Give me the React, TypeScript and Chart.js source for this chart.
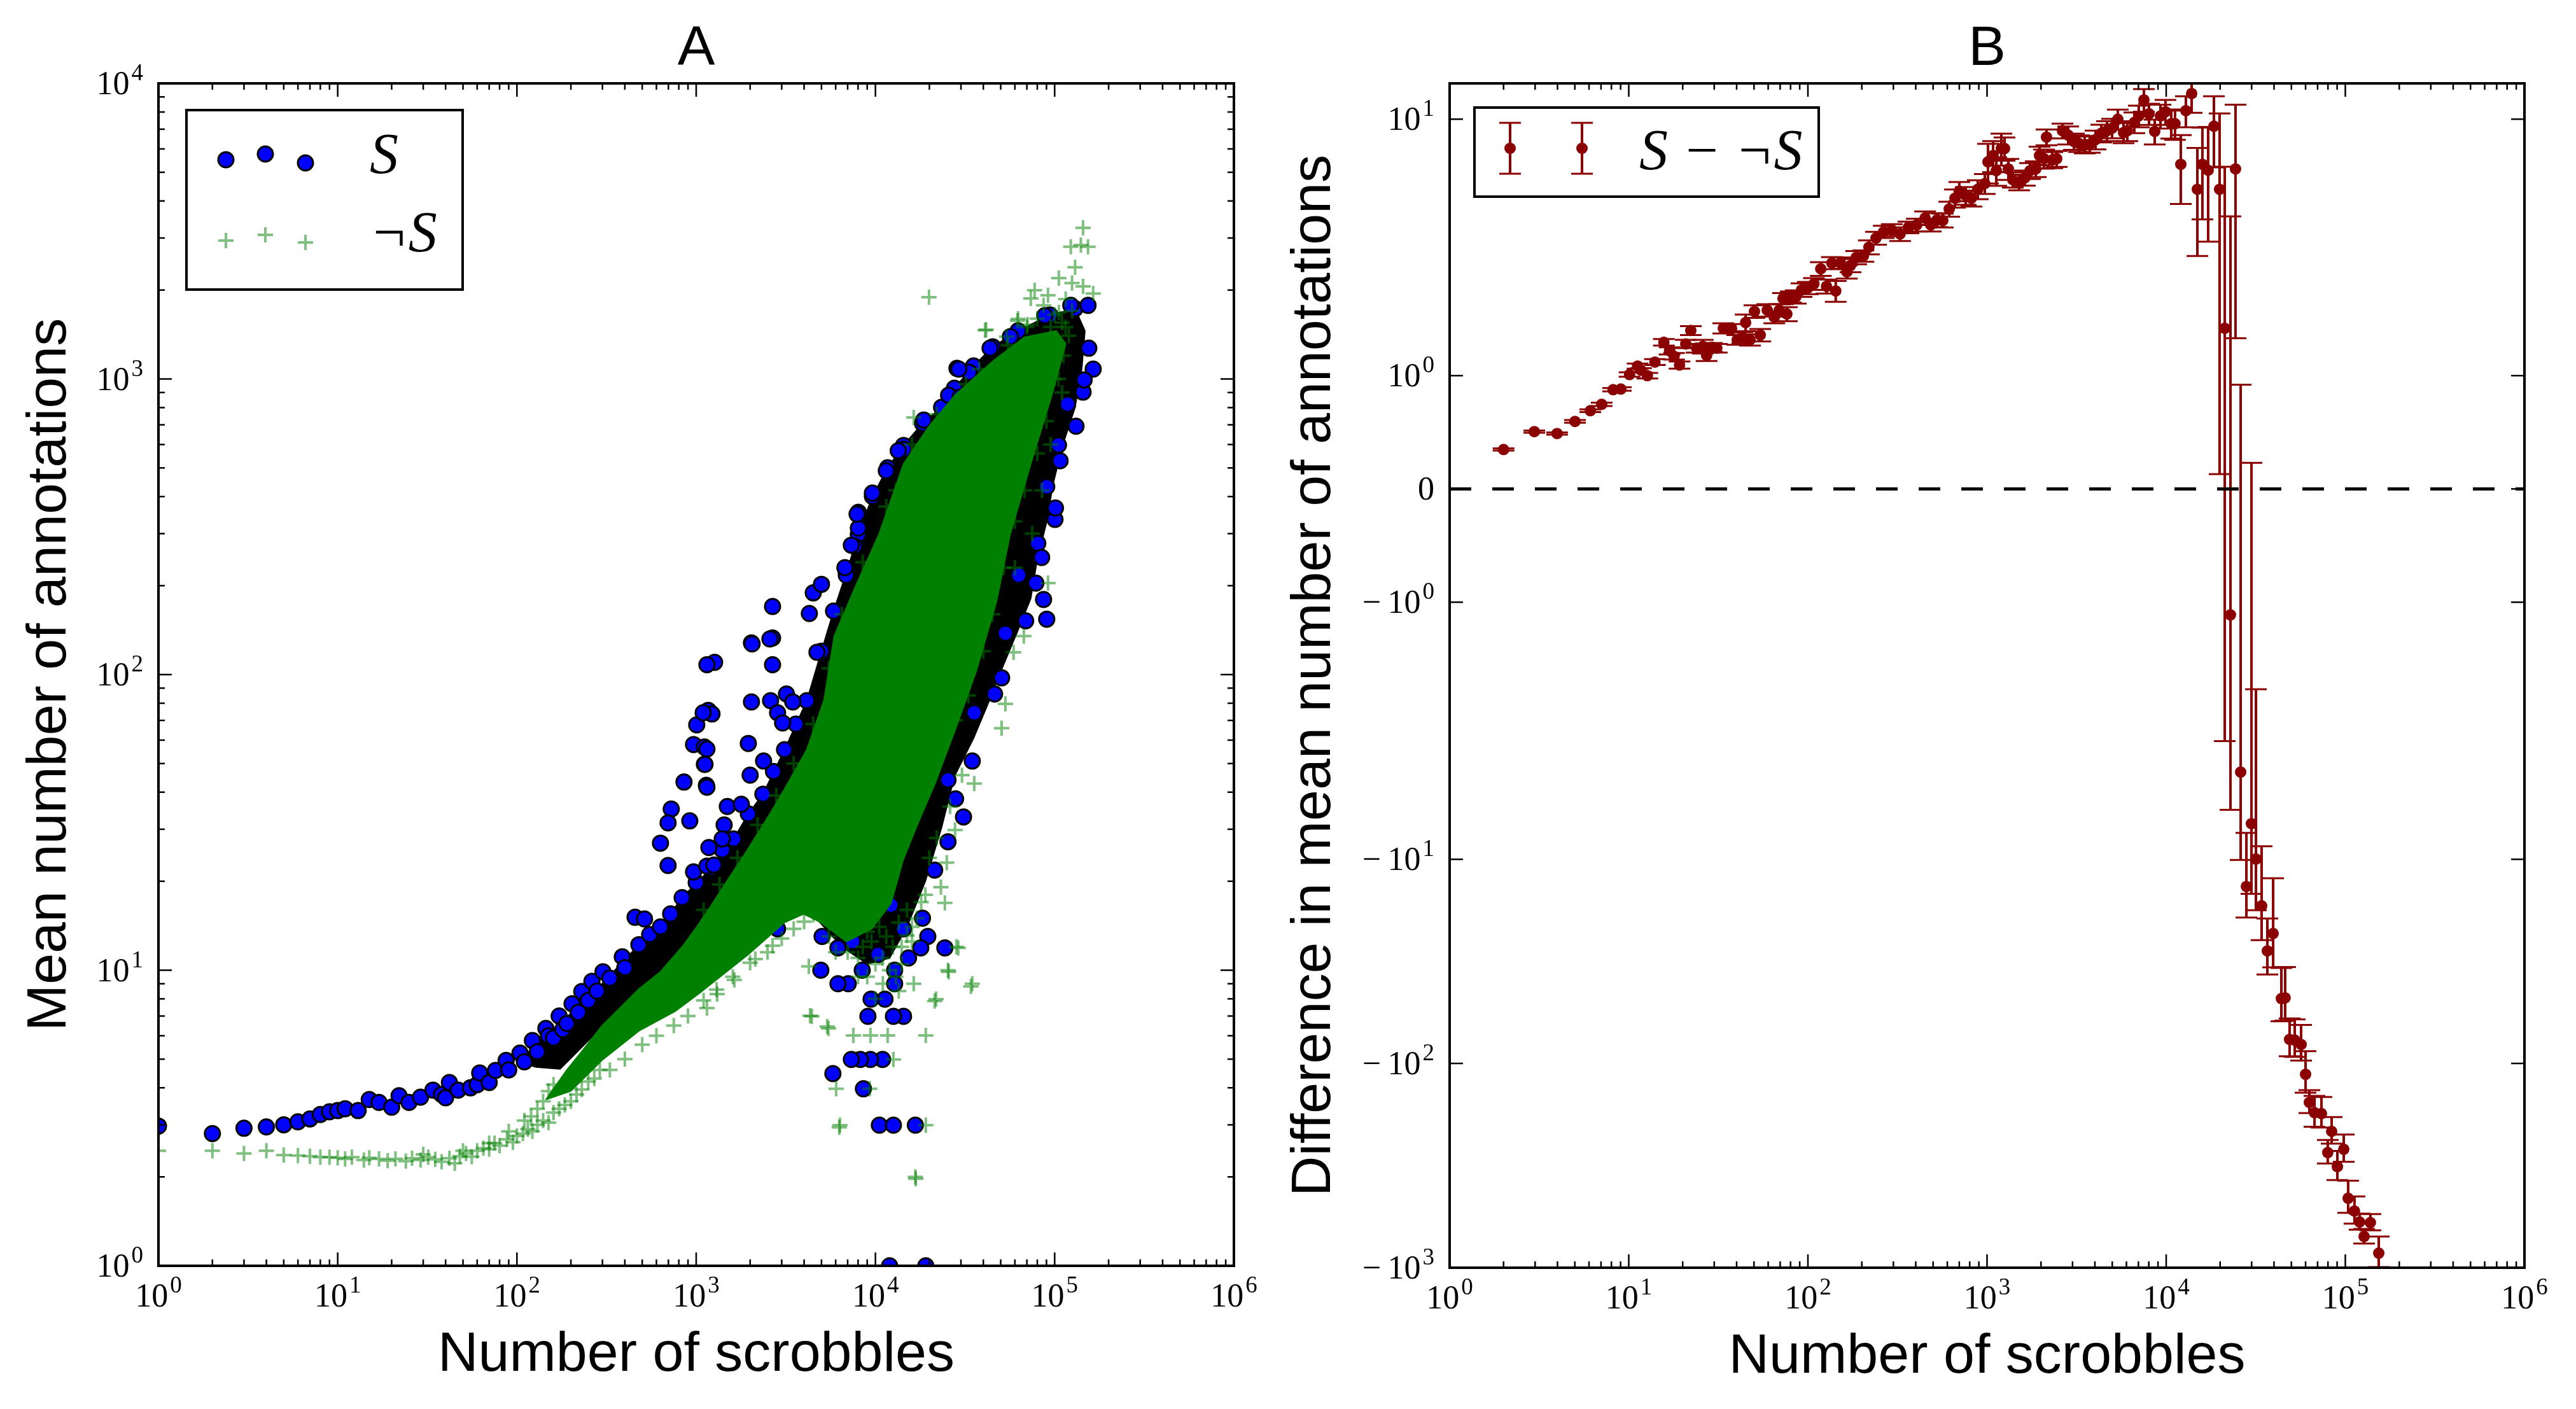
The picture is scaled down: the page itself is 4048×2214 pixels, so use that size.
import { useEffect, useRef } from 'react';
import { Chart, LinearScale, registerables } from 'chart.js';
import type { ChartArea, ChartConfiguration, Plugin } from 'chart.js';

Chart.register(...registerables);

// ---------------- panel A: mean number of annotations ----------------

// S: single markers that stand out of the dense band
const sScrobbles = [
  1, 2, 3, 4, 5, 6, 7, 8, 9, 10, 11, 13, 15, 17, 20, 22, 25, 29, 34, 38, 40, 42, 47, 55, 60, 62, 70, 76, 87, 90,
  104, 110, 122, 130, 145, 150, 160, 172, 180, 190, 203, 220, 230, 250, 262, 280, 302, 330,
  387, 400, 456, 479, 515, 550, 632, 720, 835, 1000, 1216, 1400, 1618, 1954, 2356, 2700, 3112, 3600, 4140, 5000,
  5840, 6880, 8030, 9620, 11700, 14350, 18300, 23400, 27600, 35300, 45100, 62500, 94000, 130000,
  1007, 1167, 967, 1111, 1111, 855, 1140, 726, 697, 921, 632, 697, 967, 1267, 1148, 1225, 1094, 2034, 2600, 3190,
  3460, 2845, 3035, 1148, 1954, 2377, 2000, 1120, 1148, 1492, 1786, 1432, 1177, 1397, 1148, 1256, 2034, 2667, 2667, 2667,
  4280, 4500, 5000, 6880, 7650, 8030, 8030, 7900, 13700, 14350, 18600, 25600, 28500, 33300, 43600, 29200, 29700, 13400, 11500, 9620,
  7340, 6760, 4720, 123000, 153500, 88100, 56600, 2050, 2578,
  164000, 144000, 155000, 146000, 131500, 118000, 107200, 105000, 90300, 100400, 101000, 80500, 84600, 78500, 86700, 90300,
  68900, 63000, 53100, 50600, 46200, 35600, 34700, 25400, 25400, 21400, 18300, 24400, 19600, 17900, 15300, 12800, 12800,
  11300, 9460, 14350, 12600, 9080, 10960, 9380, 8240, 7340, 5790, 8570, 10520, 12600, 16700, 12000, 19100, 4960, 5040,
  6180, 7050, 6180, 8440, 7460, 10350, 14350, 12200, 2845, 28000, 31000,
];
const sMean = [
  2.97, 2.8, 2.92, 2.95, 3.0, 3.07, 3.14, 3.25, 3.32, 3.35, 3.4, 3.35, 3.65, 3.57, 3.44, 3.76, 3.57, 3.72, 3.93, 3.8, 3.7, 4.17, 3.93, 4.0, 4.1, 4.49, 4.17, 4.58, 4.95, 4.6,
  5.24, 4.9, 5.78, 5.3, 6.35, 6.0, 5.9, 7.0, 6.3, 6.6, 7.7, 7.2, 8.47, 7.9, 9.17, 8.5, 9.88, 9.4,
  11.1, 10.2, 15.1, 12.2, 14.9, 13.2, 14.0, 15.5, 17.6, 19.8, 22.2, 25.5, 27.8, 33.8, 39.4, 47, 55.7, 68, 81.6, 120,
  164, 221, 298, 401, 501, 596, 708, 802, 931, 1107, 1285, 1455, 1646, 1730,
  67.6, 75.7, 58, 56.9, 49.7, 43.3, 42.2, 35.1, 31.5, 32, 26.9, 22.6, 21.5, 110, 108, 73.6, 74.3, 80.8, 81.6, 86,
  80.8, 74.3, 68.6, 56, 58.5, 51, 45.7, 49.7, 41.6, 35.8, 36.4, 31, 26, 27.8, 22.5, 22.7, 128, 133, 108, 170,
  161, 189, 202, 217, 272, 313, 354, 349, 415, 578, 726, 881, 1086, 1054, 1271, 1080, 868, 572, 489, 411,
  274, 230, 119, 1774, 1774, 1638, 1391, 127, 132,
  1080, 903, 1271, 993, 692, 822, 529, 598, 432, 335, 366, 278, 249, 204, 179.5, 154,
  152, 217, 138, 97.5, 86, 74.3, 51, 44, 27.2, 21.8, 15, 11.9, 13, 11.9, 11.0, 10.0, 9.0,
  7.98, 7.98, 6.98, 6.98, 6.98, 4.99, 4.99, 4.99, 4.99, 4.47, 3.97, 2.99, 2.99, 2.99, 1.0, 1.0, 10.0, 13.0,
  11.9, 9.0, 9.0, 10.0, 12.5, 11.3, 13.8, 16.6, 13.8, 38, 33,
];

// S: outline of the band where the markers overlap into solid black
const sCoreScrobbles = [
  100, 128, 187, 298, 479, 632, 835, 1216, 1618, 1954, 2356, 3112, 4140, 5000, 5840, 6880, 8030, 9620, 11700, 14350,
  18300, 23400, 27600, 35300, 45100, 62500, 94000, 130000,
  147500, 141600, 130000, 110700, 98000, 90300, 79800, 73600, 62500, 50900, 43300, 35300, 27600, 23400, 19000, 15000,
  12000, 9000, 6500, 4570,
  3300, 1580, 697, 308, 174, 128, 100,
];
const sCoreMean = [
  4.9, 5.56, 6.88, 8.99, 12.2, 14.0, 17.6, 22.2, 27.8, 33.8, 39.4, 55.7, 81.6, 120, 164, 221, 298, 401, 501, 596,
  708, 802, 931, 1107, 1285, 1455, 1646, 1730,
  1455, 1080, 802, 596, 442, 329, 244, 181, 141.5, 105, 82, 61, 45.3, 30.4, 20, 14,
  11, 10.5, 12, 15.2,
  23.8, 14.5, 9.27, 6.55, 4.63, 4.7, 4.9,
];

// ¬S: single markers
const nsScrobbles = [
  1, 2, 3, 4, 5, 6, 7, 8, 9, 10, 11, 12, 14, 15, 17, 19, 21, 24, 26, 29,
  30, 32, 35, 38, 42, 45, 48, 50, 52, 56, 60, 65, 70, 70, 75, 80, 88, 90, 95, 100,
  108, 110, 115, 120, 122, 130, 130, 140, 140, 150, 150, 160, 160, 172, 185,
  200, 215, 230, 250, 270, 290, 330, 400, 500, 600, 750, 900, 1100, 1300, 1600, 2000, 2500, 3000, 3500, 4000, 4500, 5000,
  4320, 5470, 6280, 16800, 34100, 25600, 28300, 21400, 19100, 11700, 9380, 7530, 5380, 4420, 4250, 12600, 6040, 9300, 6340, 19100,
  16700, 15000, 2667, 2138, 1633, 1309, 1148, 29000, 25400, 34700, 21800, 16360, 35600, 30400, 26100, 27800, 25000, 23200, 24400,
  7000, 9000, 11000, 13500, 10000, 8000, 16000, 18000, 20000, 22000, 14000,
  5500, 6500, 7500, 8500, 9500, 10500, 11500, 12500, 13500, 15000, 17000, 19000, 6000, 8000, 10000, 12000, 14000, 16000, 11000, 9000, 13000,
  91800, 67300, 59000, 53100, 50600, 75000, 85000, 95000, 60000, 110000, 100000,
  144000, 123000, 140000, 153500, 19900, 105500, 125000, 144000, 77300, 91800, 73600, 164000, 62000, 70600, 41500, 54000,
  105500, 86700, 130000, 115300, 16360, 62500, 40900, 120000, 110000, 95000,
  1100, 1350, 1700, 2200, 2800, 3500, 4500, 5500, 6500, 8500, 11500, 13000, 16000, 22000, 32000, 38000, 55000,
  112000, 105000, 90000, 80000, 68000, 60000, 52000, 45000, 40000, 33000, 28000,
  80000, 100000, 70000, 115000, 125000,
];
const nsMean = [
  2.45, 2.45, 2.4, 2.45, 2.37, 2.36, 2.35, 2.33, 2.33, 2.32, 2.3, 2.33, 2.28, 2.32, 2.3, 2.27, 2.3, 2.26, 2.31, 2.28,
  2.38, 2.33, 2.29, 2.25, 2.31, 2.22, 2.35, 2.45, 2.4, 2.34, 2.45, 2.5, 2.48, 2.6, 2.6, 2.55, 2.68, 2.85, 2.62, 2.75,
  2.8, 3.1, 2.9, 3.2, 2.85, 3.0, 3.4, 3.1, 3.6, 3.05, 3.9, 3.3, 4.1, 3.4, 3.5,
  3.6, 3.8, 3.95, 4.2, 4.3, 4.6, 4.6, 5.0, 5.6, 6.0, 6.5, 7.0, 7.9, 8.6, 9.5, 10.6, 11.5, 12.8, 13.8, 14.6, 15.4, 15.9,
  7.02, 6.35, 2.94, 1.97, 8.81, 9.88, 12.0, 7.86, 6.02, 6.02, 6.02, 6.02, 6.45, 6.98, 10.3, 4.99, 3.97, 3.97, 2.99, 2.99,
  2.0, 13.1, 12.1, 10.9, 9.27, 8.3, 7.45, 11.9, 10.0, 9.0, 7.98, 9.0, 42.8, 45.7, 35.8, 29.8, 23.1, 19.1, 16.9,
  11.5, 13.5, 11, 8.5, 8.0, 9.5, 12.5, 17, 24, 28, 10.5,
  13, 14, 13.5, 12, 12.5, 14, 13, 12, 14.5, 16, 15, 18, 11.5, 11, 10.5, 10, 12, 14, 9, 9.5, 9.5,
  204, 135, 119, 79.6, 65.9, 300, 420, 600, 230, 900, 1000,
  3245, 2800, 2840, 2800, 1890, 2195, 2110, 2057, 1996, 1919, 1873, 1945, 1574, 1528, 1468, 1391,
  1679, 1774, 2387, 1862, 741, 1597, 1462, 1400, 1550, 1500,
  16, 19.5, 24, 31, 39, 50, 68, 105, 160, 240, 370, 420, 600, 760, 960, 1080, 1300,
  1200, 1000, 720, 560, 420, 330, 230, 160, 120, 85, 70,
  1600, 1650, 1500, 1500, 1700,
];

// ¬S: outline of the solid green cloud
const nsCoreScrobbles = [
  145, 190, 226, 298, 397, 479, 632, 835, 1007, 1216, 1466, 1954, 2578, 3112, 4140, 5165, 5890, 7780, 10500, 14350,
  19900, 27800, 45400, 67800, 102000, 115300, 96400, 73600, 56600, 47300, 36500, 27600, 21600, 16900, 14350, 12200,
  9530, 6880, 4960, 3980, 3112, 1954, 1050, 763, 479, 298, 200, 145,
];
const nsCoreMean = [
  3.65, 4.6, 5.24, 6.48, 7.71, 8.64, 9.88, 12.0, 14.0, 16.6, 19.8, 25.8, 33.8, 41, 55.7, 82, 135, 200, 300, 516,
  692, 881, 1151, 1384, 1455, 1316, 881, 516, 300, 176, 102.5, 64, 43.1, 30.4, 23.8, 16.8,
  13.8, 12.5, 14.5, 15.5, 14.5, 11.3, 8.39, 7.26, 6.23, 4.96, 3.9, 3.65,
];

// ---------------- panel B: difference S − ¬S ----------------

const diffScrobbles = [
  2, 2.97, 3.98, 5.01, 6.1, 7.06, 8.18, 9.03, 10.1, 11.2,
  11.7, 12.7, 14.0, 15.7, 16.9, 17.9, 19.2, 20.8, 22.2, 23.9,
  25.9, 27.2, 29.1, 31.0, 33.7, 37.5, 40.3, 43.1, 44.9, 47.5,
  50.3, 54.2, 59.3, 64.9, 69.2, 72.6, 76.3, 80.2, 85.6, 92.1,
  100, 108, 118, 127, 136, 143, 152, 165, 173, 186,
  204, 219, 240, 265, 294, 327, 364, 405, 451, 485,
  526, 566, 615, 662, 700, 760, 818, 888, 972, 1012,
  1081, 1126, 1202, 1252, 1315, 1393, 1511, 1626, 1738, 1871,
  1963, 2080, 2148, 2312, 2449, 2636, 2837, 3055, 3260, 3510,
  3750, 4035, 4345, 4675, 4990, 5370, 5780, 6070, 6640, 7030,
  7510, 8020, 8630, 9290, 9910, 10670, 11200, 12070, 12880, 13870,
  14930, 15930, 17150, 18470, 19870, 21230, 22850, 24380, 26050, 28040,
  29920, 31700, 34100, 36720, 39540, 43950, 46130, 48870, 52200, 56650,
  60000, 63000, 67300, 73600, 79800, 83900, 90300, 98000, 103700, 112500,
  120200, 127300, 138000, 153700,
];
const diffValue = [
  0.348, 0.506, 0.489, 0.596, 0.691, 0.747, 0.876, 0.882, 1.01, 1.09,
  1.05, 1.0, 1.13, 1.35, 1.25, 1.19, 1.1, 1.33, 1.5, 1.28,
  1.3, 1.2, 1.29, 1.28, 1.53, 1.53, 1.38, 1.41, 1.61, 1.38,
  1.78, 1.44, 1.8, 1.69, 1.8, 2.0, 1.74, 2.03, 2.03, 2.16,
  2.2, 2.28, 2.61, 2.23, 2.75, 2.14, 2.75, 2.54, 2.69, 2.89,
  2.93, 3.17, 3.44, 3.64, 3.7, 3.57, 3.79, 3.87, 4.12, 3.87,
  4.05, 4.03, 4.47, 4.92, 5.24, 5.04, 4.92, 5.33, 5.61, 6.82,
  7.22, 6.3, 7.69, 7.69, 6.4, 5.81, 5.68, 5.91, 6.3, 6.4,
  7.22, 7.02, 8.52, 6.94, 7.02, 9.02, 8.67, 8.19, 8.05, 7.96,
  8.0, 8.33, 8.82, 9.02, 9.23, 10.0, 8.87, 9.02, 9.72, 10.3,
  11.9, 10.5, 8.97, 10.3, 10.7, 9.61, 9.61, 6.67, 10.8, 12.6,
  5.33, 6.67, 6.33, 9.39, 5.33, 1.53, -1.12, 6.4, -4.58, -13.6,
  -7.27, -9.98, -16.9, -28.1, -23.1, -48.1, -47.7, -76.2, -76.8, -80.7,
  -113, -155, -174, -176, -273, -215, -320, -263, -457, -528,
  -597, -703, -601, -848,
];
const diffErr = [
  0.01, 0.01, 0.01, 0.012, 0.012, 0.015, 0.015, 0.015, 0.02, 0.025,
  0.02, 0.025, 0.03, 0.04, 0.04, 0.035, 0.035, 0.05, 0.06, 0.05,
  0.08, 0.06, 0.05, 0.05, 0.07, 0.06, 0.06, 0.07, 0.12, 0.07,
  0.1, 0.08, 0.1, 0.09, 0.1, 0.1, 0.11, 0.1, 0.12, 0.13,
  0.12, 0.12, 0.16, 0.14, 0.15, 0.2, 0.14, 0.15, 0.16, 0.17,
  0.15, 0.2, 0.2, 0.2, 0.2, 0.22, 0.2, 0.22, 0.25, 0.22,
  0.25, 0.25, 0.3, 0.4, 0.45, 0.4, 0.35, 0.45, 0.5, 1.2,
  1.0, 0.8, 1.1, 0.8, 0.6, 0.4, 0.4, 0.4, 0.45, 0.45,
  0.6, 0.6, 0.6, 0.5, 0.5, 0.6, 0.7, 0.6, 0.6, 0.6,
  0.6, 0.7, 0.7, 0.8, 0.8, 0.9, 0.8, 0.8, 0.9, 1.0,
  1.2, 1.0, 1.0, 1.1, 1.2, 1.2, 1.3, 2.0, 1.5, 2.0,
  2.4, 2.6, 3.0, 2.9, 5.2, 5.0, 5.3, 5.0, 5.5, 5.7,
  7.5, 7.8, 8, 8.6, 10.7, 14, 14, 16, 16, 16,
  26, 20, 30, 30, 36, 32, 52, 40, 82, 80,
  54, 58, 55, 145,
];
const zeroLineScrobbles = [1, 1000000];
const zeroLineValue = [0, 0];

// ---------------- ticks ----------------

const decadeTicks = [1, 10, 100, 1000, 10000, 100000, 1000000];
const decadeLabels = ['10^0', '10^1', '10^2', '10^3', '10^4', '10^5', '10^6'];
const minorSteps = [2, 3, 4, 5, 6, 7, 8, 9];
const aYTicks = [1, 10, 100, 1000, 10000];
const aYLabels = ['10^0', '10^1', '10^2', '10^3', '10^4'];
const bYTicks = [10, 1, 0, -1, -10, -100, -1000];
const bYLabels = ['10^1', '10^0', '0', '\u2212\u200910^0', '\u2212\u200910^1', '\u2212\u200910^2', '\u2212\u200910^3'];

const SANS = '"Liberation Sans", Arial, sans-serif';
const SERIF = '"Liberation Serif", "Times New Roman", serif';
const S_FILL = '#0000ff';
const NS_COLOR = 'rgba(0, 128, 0, 0.5)';
const NS_CORE = '#008000';
const DIFF_COLOR = '#8b0000';

function zip(xs: number[], ys: number[]) {
  return xs.map((x, i) => ({ x, y: ys[i] }));
}

function minorLogTicks(lo: number, hi: number) {
  const out: number[] = [];
  for (let d = lo; d < hi; d *= 10) {
    for (const m of minorSteps) out.push(d * m);
  }
  return out;
}

// ---------------- y scale of panel B ----------------
// linear between -1 and 1, logarithmic outside; the negative decades below -10 are narrower
const LIN = 178 / 403;
const NEG1 = 404 / 403;
const NEGN = 321 / 403;

function toUnits(v: number) {
  if (v >= -1 && v <= 1) return v * LIN;
  if (v > 1) return LIN + Math.log10(v);
  const l = Math.log10(-v);
  return l <= 1 ? -(LIN + NEG1 * l) : -(LIN + NEG1 + NEGN * (l - 1));
}

function fromUnits(u: number) {
  if (Math.abs(u) <= LIN) return u / LIN;
  if (u > 0) return 10 ** (u - LIN);
  const w = -u - LIN;
  return w <= NEG1 ? -(10 ** (w / NEG1)) : -(10 ** (1 + (w - NEG1) / NEGN));
}

class SplitLogScale extends LinearScale {
  static id = 'splitlog';
  static defaults = LinearScale.defaults;
  uLo = 0;
  uHi = 1;

  configure() {
    super.configure();
    this.uLo = toUnits(this.min);
    this.uHi = toUnits(this.max);
  }

  getPixelForValue(value: number) {
    return this.getPixelForDecimal((toUnits(value) - this.uLo) / (this.uHi - this.uLo));
  }

  getValueForPixel(pixel: number) {
    return fromUnits(this.uLo + this.getDecimalForPixel(pixel) * (this.uHi - this.uLo));
  }
}
Chart.register(SplitLogScale);

// ---------------- drawing helpers ----------------

function drawMath(ctx: CanvasRenderingContext2D, text: string, x: number, baseline: number, align: 'center' | 'right') {
  const [main, sup = ''] = text.split('^');
  ctx.font = `52px ${SERIF}`;
  const wMain = ctx.measureText(main).width;
  ctx.font = `37px ${SERIF}`;
  const wSup = sup ? ctx.measureText(sup).width + 3 : 0;
  const total = wMain + wSup;
  const left = align === 'center' ? x - total / 2 : x - total;
  ctx.textAlign = 'left';
  ctx.textBaseline = 'alphabetic';
  ctx.font = `52px ${SERIF}`;
  ctx.fillText(main, left, baseline);
  if (sup) {
    ctx.font = `37px ${SERIF}`;
    ctx.fillText(sup, left + wMain + 3, baseline - 22);
  }
}

function drawCircle(ctx: CanvasRenderingContext2D, x: number, y: number) {
  ctx.beginPath();
  ctx.arc(x, y, 12, 0, Math.PI * 2);
  ctx.fillStyle = S_FILL;
  ctx.fill();
  ctx.lineWidth = 3;
  ctx.strokeStyle = '#000';
  ctx.stroke();
}

function drawPlus(ctx: CanvasRenderingContext2D, x: number, y: number) {
  ctx.beginPath();
  ctx.moveTo(x - 12, y);
  ctx.lineTo(x + 12, y);
  ctx.moveTo(x, y - 12);
  ctx.lineTo(x, y + 12);
  ctx.lineWidth = 4;
  ctx.strokeStyle = NS_COLOR;
  ctx.stroke();
}

function drawErrorMark(ctx: CanvasRenderingContext2D, x: number, top: number, bottom: number) {
  ctx.strokeStyle = DIFF_COLOR;
  ctx.lineWidth = 4;
  ctx.beginPath();
  ctx.moveTo(x, top);
  ctx.lineTo(x, bottom);
  ctx.stroke();
  ctx.lineWidth = 3;
  ctx.beginPath();
  ctx.moveTo(x - 17, top);
  ctx.lineTo(x + 17, top);
  ctx.moveTo(x - 17, bottom);
  ctx.lineTo(x + 17, bottom);
  ctx.stroke();
}

function legendBox(ctx: CanvasRenderingContext2D, left: number, top: number, w: number, h: number) {
  ctx.fillStyle = '#fff';
  ctx.fillRect(left, top, w, h);
  ctx.lineWidth = 4;
  ctx.strokeStyle = '#000';
  ctx.strokeRect(left, top, w, h);
}

function legendA(ctx: CanvasRenderingContext2D, a: ChartArea) {
  const left = a.left + 44;
  const top = a.top + 42;
  legendBox(ctx, left, top, 434, 282);
  drawCircle(ctx, left + 62, top + 78);
  drawCircle(ctx, left + 124, top + 69);
  drawCircle(ctx, left + 187, top + 83);
  drawPlus(ctx, left + 62, top + 205);
  drawPlus(ctx, left + 124, top + 196);
  drawPlus(ctx, left + 187, top + 208);
  ctx.fillStyle = '#000';
  ctx.textAlign = 'left';
  ctx.textBaseline = 'alphabetic';
  ctx.font = `italic 90px ${SERIF}`;
  ctx.fillText('S', left + 288, top + 99);
  ctx.fillText('\u00acS', left + 288, top + 222);
}

function legendB(ctx: CanvasRenderingContext2D, a: ChartArea) {
  const left = a.left + 39;
  const top = a.top + 38;
  legendBox(ctx, left, top, 541, 140);
  for (const dx of [56, 169]) {
    drawErrorMark(ctx, left + dx, top + 24, top + 104);
    ctx.beginPath();
    ctx.arc(left + dx, top + 64, 9, 0, Math.PI * 2);
    ctx.fillStyle = DIFF_COLOR;
    ctx.fill();
  }
  ctx.fillStyle = '#000';
  ctx.textAlign = 'left';
  ctx.textBaseline = 'alphabetic';
  ctx.font = `italic 90px ${SERIF}`;
  ctx.fillText('S \u2212 \u00acS', left + 259, top + 97);
}

type Decor = {
  title: string;
  xTitle: string;
  yTitle: string;
  yTitleGap: number;
  yTicks: number[];
  yLabels: string[];
  yMinor: number[];
  legend: (ctx: CanvasRenderingContext2D, a: ChartArea) => void;
};

function decorPlugin(d: Decor): Plugin<'scatter'> {
  return {
    id: 'panelDecor',
    afterDraw(chart) {
      const { ctx, chartArea: a } = chart;
      const xs = chart.scales.x;
      const ys = chart.scales.y;
      ctx.save();
      ctx.strokeStyle = '#000';
      ctx.lineWidth = 2.5;
      ctx.beginPath();
      const xTick = (v: number, len: number) => {
        const px = xs.getPixelForValue(v);
        ctx.moveTo(px, a.bottom);
        ctx.lineTo(px, a.bottom - len);
        ctx.moveTo(px, a.top);
        ctx.lineTo(px, a.top + len);
      };
      const yTick = (v: number, len: number) => {
        const py = ys.getPixelForValue(v);
        ctx.moveTo(a.left, py);
        ctx.lineTo(a.left + len, py);
        ctx.moveTo(a.right, py);
        ctx.lineTo(a.right - len, py);
      };
      decadeTicks.forEach((v) => xTick(v, 21));
      minorLogTicks(1, 1000000).forEach((v) => xTick(v, 10));
      d.yTicks.forEach((v) => yTick(v, 21));
      d.yMinor.forEach((v) => yTick(v, 10));
      ctx.stroke();

      d.legend(ctx, a);

      ctx.lineWidth = 4;
      ctx.strokeStyle = '#000';
      ctx.strokeRect(a.left, a.top, a.right - a.left, a.bottom - a.top);

      ctx.fillStyle = '#000';
      decadeTicks.forEach((v, i) => drawMath(ctx, decadeLabels[i], xs.getPixelForValue(v), a.bottom + 64, 'center'));
      d.yTicks.forEach((v, i) => drawMath(ctx, d.yLabels[i], a.left - 24, ys.getPixelForValue(v) + 17, 'right'));

      const cx = (a.left + a.right) / 2;
      const cy = (a.top + a.bottom) / 2;
      ctx.font = `88px ${SANS}`;
      ctx.textAlign = 'center';
      ctx.textBaseline = 'alphabetic';
      ctx.fillText(d.title, cx, a.top - 29);
      ctx.fillText(d.xTitle, cx, a.bottom + 165);
      ctx.translate(a.left - d.yTitleGap, cy);
      ctx.rotate(-Math.PI / 2);
      ctx.fillText(d.yTitle, 0, 0);
      ctx.restore();
    },
  };
}

const errorBarPlugin: Plugin<'scatter'> = {
  id: 'diffErrorBars',
  beforeDatasetsDraw(chart) {
    const { ctx, chartArea: a } = chart;
    const xs = chart.scales.x;
    const ys = chart.scales.y;
    ctx.save();
    ctx.beginPath();
    ctx.rect(a.left, a.top, a.right - a.left, a.bottom - a.top);
    ctx.clip();
    diffScrobbles.forEach((xv, i) => {
      const px = xs.getPixelForValue(xv);
      const top = ys.getPixelForValue(diffValue[i] + diffErr[i]);
      const bottom = ys.getPixelForValue(diffValue[i] - diffErr[i]);
      drawErrorMark(ctx, px, top, bottom);
    });
    ctx.restore();
  },
};

const baseOptions = {
  animation: false as const,
  responsive: false,
  devicePixelRatio: 1,
  events: [] as never[],
  plugins: { legend: { display: false }, tooltip: { enabled: false }, title: { display: false } },
};

function buildPanelA(): ChartConfiguration<'scatter'> {
  return {
    type: 'scatter',
    data: {
      datasets: [
        {
          label: 'S band',
          data: zip(sCoreScrobbles, sCoreMean),
          showLine: true,
          fill: 'shape',
          backgroundColor: '#000',
          borderColor: '#000',
          borderWidth: 2,
          pointRadius: 0,
          order: 6,
          clip: 0,
        },
        {
          label: 'S',
          data: zip(sScrobbles, sMean),
          pointRadius: 12,
          pointBorderWidth: 3,
          pointBackgroundColor: S_FILL,
          pointBorderColor: '#000',
          backgroundColor: S_FILL,
          borderColor: '#000',
          order: 5,
          clip: 0,
        },
        {
          label: '¬S cloud',
          data: zip(nsCoreScrobbles, nsCoreMean),
          showLine: true,
          fill: 'shape',
          backgroundColor: NS_CORE,
          borderColor: NS_CORE,
          borderWidth: 2,
          pointRadius: 0,
          order: 4,
          clip: 0,
        },
        {
          label: '¬S',
          data: zip(nsScrobbles, nsMean),
          pointStyle: 'cross',
          pointRadius: 12,
          pointBorderWidth: 4,
          pointBorderColor: NS_COLOR,
          pointBackgroundColor: NS_COLOR,
          borderColor: NS_COLOR,
          order: 3,
          clip: 0,
        },
      ],
    },
    options: {
      ...baseOptions,
      layout: { padding: { left: 249, right: 85, top: 131, bottom: 225 } },
      scales: {
        x: { type: 'logarithmic', min: 1, max: 1000000, display: false, bounds: 'data' },
        y: { type: 'logarithmic', min: 1, max: 10000, display: false, bounds: 'data' },
      },
    },
    plugins: [
      decorPlugin({
        title: 'A',
        xTitle: 'Number of scrobbles',
        yTitle: 'Mean number of annotations',
        yTitleGap: 146,
        yTicks: aYTicks,
        yLabels: aYLabels,
        yMinor: minorLogTicks(1, 10000),
        legend: legendA,
      }),
    ],
  };
}

function buildPanelB(): ChartConfiguration<'scatter'> {
  return {
    type: 'scatter',
    data: {
      datasets: [
        {
          label: 'S − ¬S',
          data: zip(diffScrobbles, diffValue),
          pointRadius: 9,
          pointBorderWidth: 0,
          pointBackgroundColor: DIFF_COLOR,
          backgroundColor: DIFF_COLOR,
          borderColor: DIFF_COLOR,
          order: 1,
          clip: 0,
        },
        {
          label: 'zero',
          data: zip(zeroLineScrobbles, zeroLineValue),
          showLine: true,
          borderColor: '#000',
          borderWidth: 5,
          borderDash: [34, 33],
          pointRadius: 0,
          order: 2,
          clip: 0,
        },
      ],
    },
    options: {
      ...baseOptions,
      layout: { padding: { left: 254, right: 81, top: 131, bottom: 222 } },
      scales: {
        x: { type: 'logarithmic', min: 1, max: 1000000, display: false, bounds: 'data' },
        y: { type: 'splitlog' as 'linear', min: -1000, max: 13.8, display: false, bounds: 'data' },
      },
    },
    plugins: [
      errorBarPlugin,
      decorPlugin({
        title: 'B',
        xTitle: 'Number of scrobbles',
        yTitle: 'Difference in mean number of annotations',
        yTitleGap: 188,
        yTicks: bYTicks,
        yLabels: bYLabels,
        yMinor: [],
        legend: legendB,
      }),
    ],
  };
}

function ChartCanvas({ build, left }: { build: () => ChartConfiguration<'scatter'>; left: number }) {
  const canvasRef = useRef<HTMLCanvasElement | null>(null);

  useEffect(() => {
    const canvas = canvasRef.current;
    if (!canvas) {
      return undefined;
    }
    const chart = new Chart(canvas, build());
    return () => {
      chart.destroy();
    };
  }, [build]);

  return (
    <canvas
      ref={canvasRef}
      width={2024}
      height={2214}
      style={{ position: 'absolute', left, top: 0, width: 2024, height: 2214 }}
    />
  );
}

export default function App() {
  return (
    <div
      style={{
        position: 'fixed',
        left: 0,
        top: 0,
        width: 4048,
        height: 2214,
        background: '#fff',
        overflow: 'hidden',
      }}
    >
      <ChartCanvas build={buildPanelA} left={0} />
      <ChartCanvas build={buildPanelB} left={2024} />
    </div>
  );
}
